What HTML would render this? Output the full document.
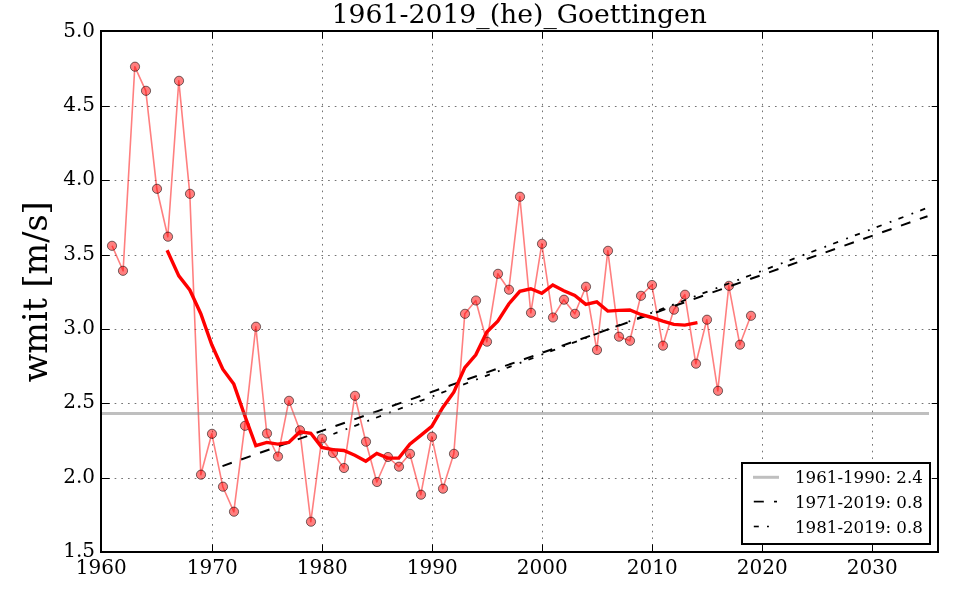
<!DOCTYPE html>
<html lang="de"><head><meta charset="utf-8"><title>1961-2019_(he)_Goettingen</title>
<style>html,body{margin:0;padding:0;background:#fff;overflow:hidden}svg{display:block}text{font-family:"DejaVu Serif","Liberation Serif",serif;fill:#000}</style></head><body>
<svg width="960" height="600" viewBox="0 0 960 600">
<rect x="0" y="0" width="960" height="600" fill="#fff"/>
<g stroke="#000" stroke-opacity="0.55" stroke-width="1" stroke-dasharray="1.67 5" fill="none">
<line x1="101.3" y1="106.5" x2="938" y2="106.5"/>
<line x1="101.3" y1="180.5" x2="938" y2="180.5"/>
<line x1="101.3" y1="255.5" x2="938" y2="255.5"/>
<line x1="101.3" y1="329.5" x2="938" y2="329.5"/>
<line x1="101.3" y1="403.5" x2="938" y2="403.5"/>
<line x1="101.3" y1="478.5" x2="938" y2="478.5"/>
<line x1="212.5" y1="552.4" x2="212.5" y2="31"/>
<line x1="322.5" y1="552.4" x2="322.5" y2="31"/>
<line x1="432.5" y1="552.4" x2="432.5" y2="31"/>
<line x1="542.5" y1="552.4" x2="542.5" y2="31"/>
<line x1="652.5" y1="552.4" x2="652.5" y2="31"/>
<line x1="762.5" y1="552.4" x2="762.5" y2="31"/>
<line x1="872.5" y1="552.4" x2="872.5" y2="31"/>
</g>
<polyline points="112.1,245.8 123.1,270.8 134.8,66.7 145.8,90.8 156.8,188.8 167.8,236.7 178.8,80.8 189.8,193.8 200.8,474.7 211.8,433.8 222.8,486.7 233.8,511.7 244.8,425.8 255.8,326.7 266.8,433.5 277.8,456.5 288.8,400.8 299.8,430.3 310.8,521.7 321.8,438.5 332.8,453.0 343.8,468.0 354.8,395.8 365.8,441.7 376.8,482.0 387.8,457.0 398.8,466.7 409.8,453.8 420.8,494.7 431.8,436.7 442.8,488.7 453.8,453.8 464.8,313.8 475.8,300.5 486.8,341.7 497.8,273.8 508.8,289.7 519.8,196.7 530.8,312.8 541.8,243.8 552.8,317.5 563.8,299.7 574.8,313.8 585.8,286.7 596.8,350.0 607.8,250.8 618.8,336.7 629.8,340.8 640.8,295.8 651.8,285.0 662.8,345.7 673.8,309.7 684.8,294.7 695.8,363.7 706.8,319.7 717.8,390.8 728.8,285.8 739.8,344.7 750.8,315.8" fill="none" stroke="#ff0000" stroke-opacity="0.5" stroke-width="1.6" stroke-linejoin="round"/>
<g fill="#ff0000" fill-opacity="0.5" stroke="#000" stroke-opacity="0.55" stroke-width="1">
<circle cx="112.0" cy="245.8" r="4.6"/>
<circle cx="123.0" cy="270.8" r="4.6"/>
<circle cx="135.0" cy="66.7" r="4.6"/>
<circle cx="146.0" cy="90.8" r="4.6"/>
<circle cx="157.0" cy="188.8" r="4.6"/>
<circle cx="168.0" cy="236.7" r="4.6"/>
<circle cx="179.0" cy="80.8" r="4.6"/>
<circle cx="190.0" cy="193.8" r="4.6"/>
<circle cx="201.0" cy="474.7" r="4.6"/>
<circle cx="212.0" cy="433.8" r="4.6"/>
<circle cx="223.0" cy="486.7" r="4.6"/>
<circle cx="234.0" cy="511.7" r="4.6"/>
<circle cx="245.0" cy="425.8" r="4.6"/>
<circle cx="256.0" cy="326.7" r="4.6"/>
<circle cx="267.0" cy="433.5" r="4.6"/>
<circle cx="278.0" cy="456.5" r="4.6"/>
<circle cx="289.0" cy="400.8" r="4.6"/>
<circle cx="300.0" cy="430.3" r="4.6"/>
<circle cx="311.0" cy="521.7" r="4.6"/>
<circle cx="322.0" cy="438.5" r="4.6"/>
<circle cx="333.0" cy="453.0" r="4.6"/>
<circle cx="344.0" cy="468.0" r="4.6"/>
<circle cx="355.0" cy="395.8" r="4.6"/>
<circle cx="366.0" cy="441.7" r="4.6"/>
<circle cx="377.0" cy="482.0" r="4.6"/>
<circle cx="388.0" cy="457.0" r="4.6"/>
<circle cx="399.0" cy="466.7" r="4.6"/>
<circle cx="410.0" cy="453.8" r="4.6"/>
<circle cx="421.0" cy="494.7" r="4.6"/>
<circle cx="432.0" cy="436.7" r="4.6"/>
<circle cx="443.0" cy="488.7" r="4.6"/>
<circle cx="454.0" cy="453.8" r="4.6"/>
<circle cx="465.0" cy="313.8" r="4.6"/>
<circle cx="476.0" cy="300.5" r="4.6"/>
<circle cx="487.0" cy="341.7" r="4.6"/>
<circle cx="498.0" cy="273.8" r="4.6"/>
<circle cx="509.0" cy="289.7" r="4.6"/>
<circle cx="520.0" cy="196.7" r="4.6"/>
<circle cx="531.0" cy="312.8" r="4.6"/>
<circle cx="542.0" cy="243.8" r="4.6"/>
<circle cx="553.0" cy="317.5" r="4.6"/>
<circle cx="564.0" cy="299.7" r="4.6"/>
<circle cx="575.0" cy="313.8" r="4.6"/>
<circle cx="586.0" cy="286.7" r="4.6"/>
<circle cx="597.0" cy="350.0" r="4.6"/>
<circle cx="608.0" cy="250.8" r="4.6"/>
<circle cx="619.0" cy="336.7" r="4.6"/>
<circle cx="630.0" cy="340.8" r="4.6"/>
<circle cx="641.0" cy="295.8" r="4.6"/>
<circle cx="652.0" cy="285.0" r="4.6"/>
<circle cx="663.0" cy="345.7" r="4.6"/>
<circle cx="674.0" cy="309.7" r="4.6"/>
<circle cx="685.0" cy="294.7" r="4.6"/>
<circle cx="696.0" cy="363.7" r="4.6"/>
<circle cx="707.0" cy="319.7" r="4.6"/>
<circle cx="718.0" cy="390.8" r="4.6"/>
<circle cx="729.0" cy="285.8" r="4.6"/>
<circle cx="740.0" cy="344.7" r="4.6"/>
<circle cx="751.0" cy="315.8" r="4.6"/>
</g>
<line x1="222.5" y1="466.1" x2="927.5" y2="216.2" stroke="#000" stroke-width="2" stroke-dasharray="10 10" stroke-dashoffset="0.15"/>
<line x1="333.4" y1="434" x2="927.5" y2="207.8" stroke="#000" stroke-width="1.8" stroke-dasharray="5.3 8.65 1.8 7.54" stroke-dashoffset="0.93"/>
<polyline points="167.8,251.8 178.8,275.9 189.8,290.0 200.8,313.7 211.8,344.8 222.8,369.2 233.8,384.1 244.8,415.8 255.8,445.7 266.8,442.4 277.8,444.1 288.8,442.4 299.8,431.9 310.8,433.3 321.8,447.4 332.8,449.6 343.8,450.5 354.8,455.3 365.8,461.2 376.8,453.4 387.8,458.0 398.8,458.1 409.8,444.1 420.8,435.4 431.8,426.3 442.8,407.4 453.8,392.2 464.8,367.6 475.8,354.8 486.8,332.0 497.8,321.2 508.8,304.0 519.8,291.3 530.8,288.8 541.8,293.3 552.8,285.0 563.8,290.7 574.8,295.4 585.8,304.4 596.8,301.9 607.8,311.1 618.8,310.4 629.8,310.0 640.8,314.5 651.8,317.5 662.8,321.2 673.8,324.4 684.8,325.1 695.8,322.9" fill="none" stroke="#ff0000" stroke-width="3.4" stroke-linejoin="miter" stroke-miterlimit="4" stroke-linecap="square"/>
<line x1="101" y1="413.5" x2="929" y2="413.5" stroke="#808080" stroke-opacity="0.5" stroke-width="3"/>
<rect x="101" y="31" width="837" height="521" fill="none" stroke="#000" stroke-width="2"/>
<g stroke="#000" stroke-width="1">
<line x1="101" y1="106.5" x2="109.7" y2="106.5"/><line x1="938" y1="106.5" x2="931.7" y2="106.5"/>
<line x1="101" y1="180.5" x2="109.7" y2="180.5"/><line x1="938" y1="180.5" x2="931.7" y2="180.5"/>
<line x1="101" y1="255.5" x2="109.7" y2="255.5"/><line x1="938" y1="255.5" x2="931.7" y2="255.5"/>
<line x1="101" y1="329.5" x2="109.7" y2="329.5"/><line x1="938" y1="329.5" x2="931.7" y2="329.5"/>
<line x1="101" y1="403.5" x2="109.7" y2="403.5"/><line x1="938" y1="403.5" x2="931.7" y2="403.5"/>
<line x1="101" y1="478.5" x2="109.7" y2="478.5"/><line x1="938" y1="478.5" x2="931.7" y2="478.5"/>
<line x1="212.5" y1="552" x2="212.5" y2="544.4"/><line x1="212.5" y1="31" x2="212.5" y2="38.7"/>
<line x1="322.5" y1="552" x2="322.5" y2="544.4"/><line x1="322.5" y1="31" x2="322.5" y2="38.7"/>
<line x1="432.5" y1="552" x2="432.5" y2="544.4"/><line x1="432.5" y1="31" x2="432.5" y2="38.7"/>
<line x1="542.5" y1="552" x2="542.5" y2="544.4"/><line x1="542.5" y1="31" x2="542.5" y2="38.7"/>
<line x1="652.5" y1="552" x2="652.5" y2="544.4"/><line x1="652.5" y1="31" x2="652.5" y2="38.7"/>
<line x1="762.5" y1="552" x2="762.5" y2="544.4"/><line x1="762.5" y1="31" x2="762.5" y2="38.7"/>
<line x1="872.5" y1="552" x2="872.5" y2="544.4"/><line x1="872.5" y1="31" x2="872.5" y2="38.7"/>
</g>
<g font-size="20px">
<text x="95" y="37.0" text-anchor="end">5.0</text>
<text x="95" y="111.0" text-anchor="end">4.5</text>
<text x="95" y="185.0" text-anchor="end">4.0</text>
<text x="95" y="260.0" text-anchor="end">3.5</text>
<text x="95" y="334.0" text-anchor="end">3.0</text>
<text x="95" y="408.0" text-anchor="end">2.5</text>
<text x="95" y="483.0" text-anchor="end">2.0</text>
<text x="95" y="556.5" text-anchor="end">1.5</text>
<text x="101.3" y="574" text-anchor="middle">1960</text>
<text x="212.3" y="574" text-anchor="middle">1970</text>
<text x="322.3" y="574" text-anchor="middle">1980</text>
<text x="432.3" y="574" text-anchor="middle">1990</text>
<text x="542.3" y="574" text-anchor="middle">2000</text>
<text x="652.3" y="574" text-anchor="middle">2010</text>
<text x="762.3" y="574" text-anchor="middle">2020</text>
<text x="872.3" y="574" text-anchor="middle">2030</text>
</g>
<text x="519.3" y="23" font-size="26.67px" text-anchor="middle">1961-2019_(he)_Goettingen</text>
<text transform="translate(47,291.8) rotate(-90)" font-size="33.33px" text-anchor="middle">wmit [m/s]</text>
<rect x="742" y="463" width="188" height="81" fill="#fff" stroke="#000" stroke-width="2"/>
<line x1="753" y1="477.3" x2="779" y2="477.3" stroke="#808080" stroke-opacity="0.5" stroke-width="3"/>
<g stroke="#000" stroke-width="1.7"><line x1="753.8" y1="501.6" x2="763.8" y2="501.6"/><line x1="774" y1="501.6" x2="777" y2="501.6"/></g>
<g stroke="#000" stroke-width="1.6"><line x1="753.8" y1="526.5" x2="758.8" y2="526.5"/><line x1="767" y1="526.5" x2="768.9" y2="526.5"/></g>
<g font-size="16.67px">
<text x="795" y="483.2">1961-1990: 2.4</text>
<text x="795" y="507.8">1971-2019: 0.8</text>
<text x="795" y="532.5">1981-2019: 0.8</text>
</g>
</svg></body></html>
